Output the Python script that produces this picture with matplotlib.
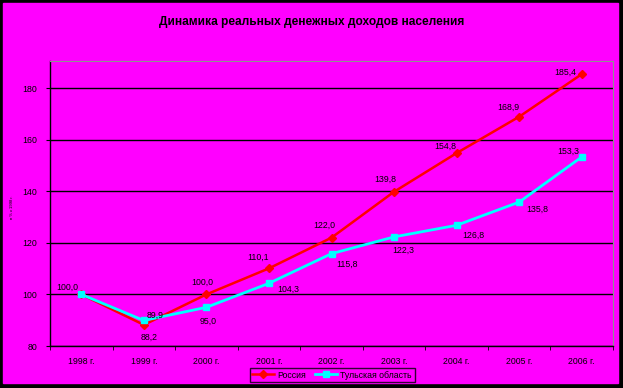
import numpy as np
import matplotlib
matplotlib.use("Agg")
import matplotlib.pyplot as plt
from matplotlib.patches import Rectangle

# data
years = ["1998 г.", "1999 г.", "2000 г.", "2001 г.", "2002 г.",
         "2003 г.", "2004 г.", "2005 г.", "2006 г."]
russia = [100.0, 88.2, 100.0, 110.1, 122.0, 139.8, 154.8, 168.9, 185.4]
tula = [100.0, 89.9, 95.0, 104.3, 115.8, 122.3, 126.8, 135.8, 153.3]
yticks = [80, 100, 120, 140, 160, 180]

MAGENTA = "#FF00FF"
W, H = 623, 388


def fmt(v):
    return ("%.1f" % v).replace(".", ",")


def main():
    plt.rcParams['font.family'] = ['Liberation Sans', 'DejaVu Sans']
    fig = plt.figure(figsize=(W / 100, H / 100), dpi=100)
    fig.patch.set_facecolor("black")
    fig.add_artist(Rectangle((3 / W, 5 / H), 615 / W, 380 / H,
                             transform=fig.transFigure, color=MAGENTA,
                             zorder=-10))

    ax = fig.add_axes([50 / W, (H - 346) / H, 563 / W, 285 / H])
    ax.set_facecolor(MAGENTA)
    x = np.arange(len(years))

    ax.plot(x, russia, color="red", lw=1.8, marker="D", ms=4,
            label="Россия", zorder=3)
    ax.plot(x, tula, color="cyan", lw=2.0, marker="s", ms=5,
            label="Тульская область", zorder=4)

    # label offsets in points (Excel put them a bit unevenly)
    r_off = [(-10, 5), (4, -9), (-3, 9), (-8, 8), (-5, 9),
             (-6, 9), (-8, 5), (-8, 7), (-12, 1)]
    t_off = [None, (8, 4), (1, -10), (14, -4), (11, -8),
             (7, -10), (12, -7), (13, -5), (-10, 4)]
    for i in range(len(years)):
        ax.annotate(fmt(russia[i]), (x[i], russia[i]), xytext=r_off[i],
                    textcoords="offset points", ha="center", va="center",
                    fontsize=6.3, zorder=5)
        if t_off[i] is not None:
            ax.annotate(fmt(tula[i]), (x[i], tula[i]), xytext=t_off[i],
                        textcoords="offset points", ha="center",
                        va="center", fontsize=6.3, zorder=5)

    ax.set_xlim(-0.5, len(years) - 0.5)
    ax.set_ylim(80, 190.5)
    ax.set_yticks(yticks)
    ax.set_yticklabels([str(v) for v in yticks], fontsize=6.3)
    ax.set_xticks(x)
    ax.set_xticklabels(years, fontsize=6.3)
    ax.set_xticks(np.arange(-0.5, len(years)), minor=True)
    ax.tick_params(axis="x", which="major", length=0, pad=8)
    ax.tick_params(axis="x", which="minor", length=3, direction="out",
                   color="black")
    ax.tick_params(axis="y", length=3, direction="out", pad=6)
    ax.grid(axis="y", color="black", lw=1.0)
    ax.set_axisbelow(True)
    for s in ["left", "bottom"]:
        ax.spines[s].set_color("black")
        ax.spines[s].set_linewidth(1.0)
    for s in ["top", "right"]:
        ax.spines[s].set_color("#909090")
        ax.spines[s].set_linewidth(0.8)

    fig.text(312 / W, 1 - 22 / H, "Динамика реальных денежных доходов населения",
             ha="center", va="center", fontsize=8.6, fontweight="bold")
    fig.text(12 / W, 1 - 207 / H, "в % к 1998 г.", rotation=90,
             ha="center", va="center", fontsize=3)

    leg = fig.legend(loc="center", bbox_to_anchor=(332 / W, 1 - 375 / H),
                     ncol=2, fontsize=6.3, frameon=True, fancybox=False,
                     borderpad=0.3, handlelength=2.5, columnspacing=1.0,
                     handletextpad=0.4)
    leg.get_frame().set_facecolor(MAGENTA)
    leg.get_frame().set_edgecolor("black")
    leg.get_frame().set_linewidth(1.0)

    fig.savefig("out.png", dpi=100, facecolor=fig.get_facecolor())


if __name__ == "__main__":
    main()
